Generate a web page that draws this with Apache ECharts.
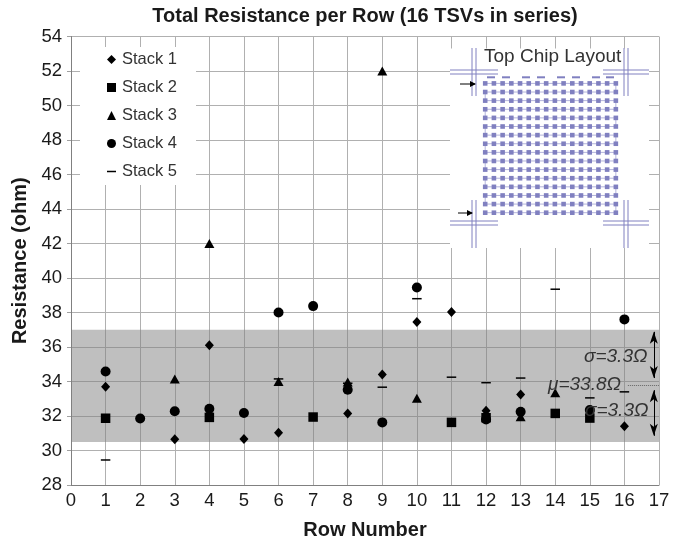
<!DOCTYPE html>
<html><head><meta charset="utf-8">
<style>html,body{margin:0;padding:0;background:#fff}#c{width:683px;height:538px}</style>
<script src="https://cdn.jsdelivr.net/npm/echarts@6/dist/echarts.min.js"></script>
</head><body><div id="c"></div>
<script>
const stack1 = [[1,33.7],[3,30.65],[4,36.1],[5,30.67],[6,31.03],[8,32.15],[9,34.4],[10,37.45],[11,38.03],[12,32.3],[13,33.25],[16,31.4]];
const stack2 = [[1,31.87],[4,31.92],[7,31.94],[11,31.63],[12,31.9],[14,32.15],[15,31.88]];
const stack3 = [[3,34.15],[4,42],[6,34],[8,33.97],[9,52],[10,33.03],[12,32.05],[13,31.96],[14,33.35]];
const stack4 = [[1,34.58],[2,31.85],[3,32.28],[4,32.42],[5,32.17],[6,38],[7,38.37],[8,33.52],[9,31.63],[10,39.45],[12,31.8],[13,32.25],[15,32.35],[16,37.6]];
const stack5 = [[1,29.45],[6,34.15],[8,33.9],[9,33.67],[10,38.8],[11,34.25],[12,33.93],[13,34.2],[14,39.35],[15,33.05],[16,33.4]];
const bandLow = 30.5, bandHigh = 37, mean = 33.8;
const titleText = 'Total Resistance per Row (16 TSVs in series)';
const seriesNames = ['Stack 1','Stack 2','Stack 3','Stack 4','Stack 5'];

const FONT = '"Liberation Sans", Arial, sans-serif';
const chart = echarts.init(document.getElementById('c'), null, {renderer:'canvas'});
const dash = 'path://M0 0H12V2H0Z';
function sc(name,data,symbol,size,z){return {name,type:'scatter',data,symbol,symbolSize:size,z:z,itemStyle:{color:'#000',opacity:1}};}

const inset = [];
const C='#8080c0', CL='#b4b4dc';
inset.push({type:'rect',shape:{x:450,y:48.5,width:199,height:199.5},style:{fill:'#fff'},z:20});
const x0=485.2,dx=8.71,y0=83.4,dy=8.62;
for(let r=0;r<16;r++){
  const y=y0+r*dy;
  inset.push({type:'line',shape:{x1:x0,y1:y,x2:x0+15*dx,y2:y},style:{stroke:CL,lineWidth:1},z:21});
  if(r<15){const vx=(r%2===0)?x0+15*dx:x0;
    inset.push({type:'line',shape:{x1:vx,y1:y,x2:vx,y2:y+dy},style:{stroke:CL,lineWidth:1},z:21});}
  for(let c=0;c<16;c++){
    inset.push({type:'rect',shape:{x:x0+c*dx-2.3,y:y-2.3,width:4.6,height:4.6},style:{fill:C},z:22});
  }
}
[[487,495],[502,510],[522,530],[537,545],[557,565],[572,580],[592,600],[606,614]].forEach(d=>{
  inset.push({type:'line',shape:{x1:d[0],y1:77.3,x2:d[1],y2:77.3},style:{stroke:C,lineWidth:2},z:21});
});
[[474,72,450,498,48,96],[626,72,603,649,48,96],[474,223,450,498,200,248],[626,223,603,649,200,248]].forEach(a=>{
  const [cx,cy,xa,xb,ya,yb]=a;
  [-2,2].forEach(o=>{
    inset.push({type:'line',shape:{x1:xa,y1:cy+o,x2:xb,y2:cy+o},style:{stroke:C,lineWidth:1},z:21});
    inset.push({type:'line',shape:{x1:cx+o,y1:ya,x2:cx+o,y2:yb},style:{stroke:C,lineWidth:1},z:21});
  });
});
function arrowH(x1,x2,y){
  inset.push({type:'line',shape:{x1,y1:y,x2,y2:y},style:{stroke:'#000',lineWidth:1},z:24});
  inset.push({type:'polygon',shape:{points:[[x2+1,y],[x2-5,y-3],[x2-5,y+3]]},style:{fill:'#000'},z:24});
}
arrowH(460,475,84); arrowH(458,472,213);
function label(text,x,y,size,italic){
  return {type:'text',x,y,style:{text,fill:'#333',font:(italic?'italic ':'')+size+'px '+FONT,textAlign:'left',textVerticalAlign:'middle'},z:30};
}
inset.push(label('Top Chip Layout',484,57,19,false));
inset.push(label('σ=3.3Ω',584,357,19,true));
inset.push(label('μ=33.8Ω',548,385,19,true));
inset.push(label('σ=3.3Ω',585,411,19,true));

chart.setOption({
  animation:false,
  backgroundColor:'#fff',
  title:{text:titleText,left:365,textAlign:'center',top:6,padding:0,textStyle:{fontFamily:FONT,fontWeight:'bold',fontSize:20,color:'#1a1a1a'}},
  grid:{left:71,right:24,top:36.5,bottom:53,containLabel:false,outerBoundsMode:'none'},
  legend:{orient:'vertical',left:80,top:47,data:seriesNames.map(n=>({name:n})),
    backgroundColor:'#fff',padding:[4,19,5,27],itemGap:11,itemWidth:9,itemHeight:9,
    textStyle:{fontFamily:FONT,fontSize:16.5,color:'#333',padding:[0,0,0,1]},z:10},
  xAxis:{type:'value',min:0,max:17,interval:1,
    name:'Row Number',nameLocation:'middle',nameGap:35,
    nameTextStyle:{fontFamily:FONT,fontWeight:'bold',fontSize:20,color:'#1a1a1a'},
    axisLine:{show:true,onZero:false,lineStyle:{color:'#808080',width:1}},
    axisTick:{show:false},
    axisLabel:{fontFamily:FONT,fontSize:18.5,color:'#1a1a1a',margin:6,showMinLabel:true,showMaxLabel:true},
    splitLine:{show:true,lineStyle:{color:'#b0b0b0',width:1}}},
  yAxis:{type:'value',min:28,max:54,interval:2,
    name:'Resistance (ohm)',nameLocation:'middle',nameGap:33,
    nameTextStyle:{fontFamily:FONT,fontWeight:'bold',fontSize:20,color:'#1a1a1a'},
    axisLine:{show:true,onZero:false,lineStyle:{color:'#808080',width:1}},
    axisTick:{show:true,length:4,lineStyle:{color:'#a0a0a0'}},
    axisLabel:{fontFamily:FONT,fontSize:18.5,color:'#1a1a1a',margin:9,showMinLabel:true,showMaxLabel:true},
    splitLine:{show:true,lineStyle:{color:'#b0b0b0',width:1}}},
  series:[
    {name:'band',type:'scatter',data:[],z:1,silent:true,
     markArea:{silent:true,itemStyle:{color:'rgba(128,128,128,0.5)'},data:[[{xAxis:0,yAxis:bandHigh},{xAxis:17,yAxis:bandLow}]]},
     markLine:{silent:true,animation:false,label:{show:false},
       data:[
        [{coord:[16.1,mean],symbol:'none',lineStyle:{color:'#666',type:'dotted',width:1}},{coord:[17,mean],symbol:'none'}],
        [{coord:[16.85,36.88],symbol:'arrow',symbolSize:[6,12],lineStyle:{color:'#000',type:'solid',width:1}},{coord:[16.85,34.2],symbol:'arrow',symbolSize:[6,12]}],
        [{coord:[16.85,33.5],symbol:'arrow',symbolSize:[6,12],lineStyle:{color:'#000',type:'solid',width:1}},{coord:[16.85,30.85],symbol:'arrow',symbolSize:[6,12]}]
       ]}},
    sc('Stack 1',stack1,'diamond',[9,10],5),
    sc('Stack 2',stack2,'rect',9.5,5),
    sc('Stack 3',stack3,'triangle',[10,9],5),
    sc('Stack 4',stack4,'circle',10,6),
    sc('Stack 5',stack5,dash,[9.5,1.5],7)
  ],
  graphic:inset
});
</script></body></html>
